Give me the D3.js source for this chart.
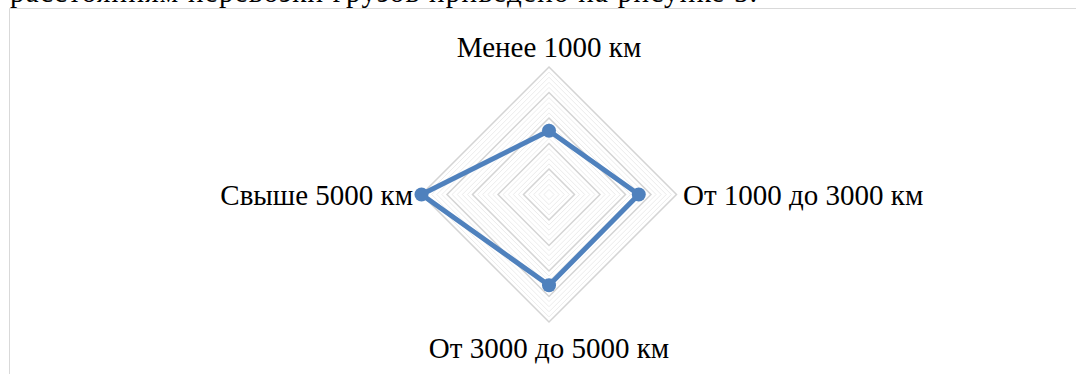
<!DOCTYPE html>
<html>
<head>
<meta charset="utf-8">
<script src="https://cdn.jsdelivr.net/npm/d3@7"></script>
<style>
  body { margin: 0; background: #fff; overflow: hidden; }
  svg { display: block; font-family: "Liberation Serif", "Times New Roman", serif; }
</style>
</head>
<body>
<div class="canvas"></div>
<script>
// Data
const categories = ["Менее 1000 км", "От 1000 до 3000 км", "От 3000 до 5000 км", "Свыше 5000 км"];
const values = [25, 35.2, 35.6, 50];
const axisMax = 50;
const majorUnit = 10;
const minorUnit = 2;

const dims = { width: 1076, height: 374, radius: 127.5 };
const cent = { x: 549, y: 194.5 };

const svg = d3
  .select(".canvas")
  .append("svg")
  .attr("width", dims.width)
  .attr("height", dims.height);

// clipped paragraph line above the chart
svg
  .append("text")
  .attr("x", 10)
  .attr("y", 1.5)
  .attr("font-size", 29)
  .attr("textLength", 747)
  .attr("lengthAdjust", "spacing")
  .attr("fill", "#000")
  .text("расстояниям перевозки грузов приведено на рисунке 5.");

// chart area border
svg
  .append("path")
  .attr("d", `M9.5,${dims.height} V8.5 H${dims.width}`)
  .attr("fill", "none")
  .attr("stroke", "#d9d9d9")
  .attr("stroke-width", 1);

const graph = svg
  .append("g")
  .attr("transform", `translate(${cent.x}, ${cent.y})`);

const r = d3.scaleLinear().domain([0, axisMax]).range([0, dims.radius]);
const angle = (i) => (i * 2 * Math.PI) / categories.length;

const ring = d3
  .lineRadial()
  .angle((d, i) => angle(i))
  .radius((d) => r(d))
  .curve(d3.curveLinearClosed);

// Gridlines: minor first, major on top
const levels = d3.range(minorUnit, axisMax + minorUnit / 2, minorUnit);
const minor = levels.filter((v) => v % majorUnit !== 0);
const major = levels.filter((v) => v % majorUnit === 0);

graph
  .selectAll("path.minor")
  .data(minor)
  .enter()
  .append("path")
  .attr("class", "minor")
  .attr("d", (v) => ring(categories.map(() => v)))
  .attr("fill", "none")
  .attr("stroke", "#ececec")
  .attr("stroke-width", 1);

graph
  .selectAll("path.major")
  .data(major)
  .enter()
  .append("path")
  .attr("class", "major")
  .attr("d", (v) => ring(categories.map(() => v)))
  .attr("fill", "none")
  .attr("stroke", "#d4d4d4")
  .attr("stroke-width", 1.5);

// Series line
graph
  .append("path")
  .attr("d", ring(values))
  .attr("fill", "none")
  .attr("stroke", "#4f81bd")
  .attr("stroke-width", 5)
  .attr("stroke-linejoin", "round");

const point = (v, i) => [
  r(v) * Math.sin(angle(i)),
  -r(v) * Math.cos(angle(i)),
];

graph
  .selectAll("circle")
  .data(values)
  .enter()
  .append("circle")
  .attr("cx", (d, i) => point(d, i)[0])
  .attr("cy", (d, i) => point(d, i)[1])
  .attr("r", 7)
  .attr("fill", "#4f81bd");

// Category labels
const labelPos = [
  { dx: 0, dy: -138, anchor: "middle" },
  { dx: 134, dy: 10.5, anchor: "start" },
  { dx: 0, dy: 163, anchor: "middle" },
  { dx: -136, dy: 10.5, anchor: "end" },
];

graph
  .selectAll("text.cat")
  .data(categories)
  .enter()
  .append("text")
  .attr("class", "cat")
  .attr("x", (d, i) => labelPos[i].dx)
  .attr("y", (d, i) => labelPos[i].dy)
  .attr("text-anchor", (d, i) => labelPos[i].anchor)
  .attr("font-size", 29)
  .attr("fill", "#000")
  .text((d) => d);
</script>
</body>
</html>
